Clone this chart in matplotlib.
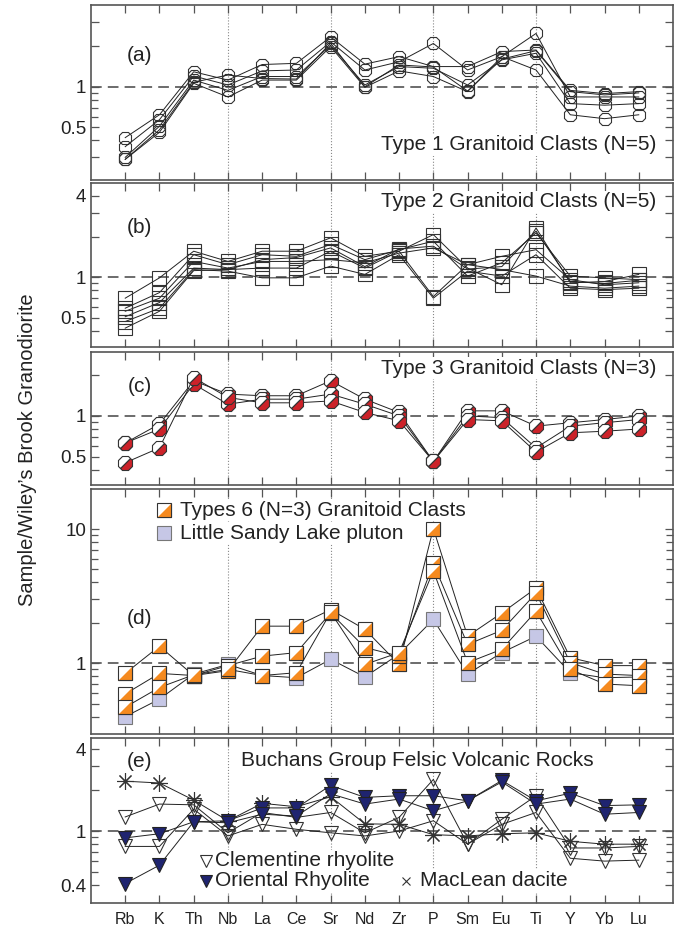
import numpy as np
import matplotlib
matplotlib.use("Agg")
import matplotlib.pyplot as plt
from matplotlib.markers import MarkerStyle
from matplotlib.transforms import Affine2D
from matplotlib.ticker import NullFormatter

plt.rcParams['font.family'] = ['Liberation Sans', 'DejaVu Sans']

elements = ["Rb", "K", "Th", "Nb", "La", "Ce", "Sr", "Nd", "Zr", "P", "Sm", "Eu", "Ti", "Y", "Yb", "Lu"]

# (a) Type 1 granitoid clasts
type1 = [
    [0.42, 0.62, 1.29, 1.12, 1.46, 1.49, 2.34, 1.47, 1.67, 1.41, 1.41, 1.82, 1.87, 0.94, 0.89, 0.92],
    [0.36, 0.57, 1.20, 1.03, 1.31, 1.33, 2.15, 1.33, 1.53, 2.09, 1.33, 1.67, 2.48, 0.84, 0.84, 0.84],
    [0.30, 0.51, 1.12, 0.94, 1.19, 1.19, 2.03, 1.03, 1.41, 1.37, 1.03, 1.58, 1.77, 0.75, 0.73, 0.75],
    [0.29, 0.46, 1.06, 0.84, 1.12, 1.12, 1.98, 0.99, 1.31, 1.19, 0.92, 1.67, 1.33, 0.62, 0.58, 0.62],
    [0.29, 0.48, 1.08, 1.22, 1.15, 1.14, 2.10, 1.00, 1.45, 1.40, 0.93, 1.60, 1.85, 0.92, 0.87, 0.90],
]

# (b) Type 2 granitoid clasts
type2 = [
    [0.70, 0.99, 1.56, 1.31, 1.56, 1.56, 1.96, 1.43, 1.56, 2.07, 1.17, 0.88, 2.32, 0.91, 0.93, 1.05],
    [0.59, 0.77, 1.47, 1.24, 1.47, 1.43, 1.75, 1.35, 1.60, 1.85, 1.02, 1.28, 2.13, 1.02, 0.99, 0.96],
    [0.56, 0.70, 1.31, 1.17, 1.31, 1.31, 1.35, 1.28, 1.51, 1.65, 1.24, 1.43, 1.60, 0.96, 0.88, 0.91],
    [0.51, 0.65, 1.17, 1.14, 1.17, 1.17, 1.56, 1.17, 1.56, 0.72, 1.24, 1.14, 1.02, 0.86, 0.83, 0.86],
    [0.47, 0.59, 1.14, 1.11, 0.99, 0.99, 1.21, 1.05, 1.47, 0.70, 1.11, 1.02, 1.47, 0.83, 0.81, 0.83],
    [0.42, 0.56, 1.12, 1.14, 1.35, 1.40, 1.65, 1.20, 1.62, 1.70, 1.15, 1.20, 2.20, 0.93, 0.90, 0.95],
]

# (c) Type 3 granitoid clasts
type3 = [
    [0.63, 0.87, 1.82, 1.45, 1.41, 1.41, 1.82, 1.33, 1.06, 0.46, 1.09, 1.09, 0.84, 0.89, 0.94, 1.00],
    [0.63, 0.80, 1.72, 1.22, 1.33, 1.33, 1.45, 1.22, 1.00, 0.46, 1.00, 0.97, 0.58, 0.84, 0.89, 0.94],
    [0.45, 0.58, 1.92, 1.37, 1.25, 1.25, 1.29, 1.06, 0.92, 0.46, 0.94, 0.92, 0.54, 0.75, 0.77, 0.80],
]

# (d) Type 6 granitoid clasts and Little Sandy Lake pluton
type6 = [
    [0.84, 1.34, 0.81, 0.88, 1.89, 1.89, 2.51, 1.79, 0.98, 10.1, 1.59, 2.37, 3.63, 1.10, 0.96, 0.96],
    [0.59, 0.84, 0.81, 0.96, 1.13, 1.20, 2.37, 1.31, 1.13, 5.56, 1.38, 1.76, 3.33, 1.01, 0.83, 0.81],
    [0.47, 0.66, 0.82, 0.90, 0.81, 0.85, 2.40, 0.98, 1.20, 4.88, 1.01, 1.27, 2.44, 0.90, 0.70, 0.68],
]
sandy_lake = [0.40, 0.54, 0.83, 0.98, 0.81, 0.78, 1.07, 0.79, 1.17, 2.12, 0.83, 1.20, 1.59, 0.85, 0.78, 0.79]

# (e) Buchans Group felsic volcanic rocks
clementine = [
    [1.27, 1.58, 1.56, 0.97, 1.37, 1.26, 1.37, 0.97, 1.26, 2.40, 0.80, 1.22, 1.82, 0.75, 0.75, 0.77],
    [0.77, 0.77, 1.45, 0.92, 1.12, 1.03, 0.97, 0.92, 1.00, 1.19, 0.80, 1.12, 1.37, 0.63, 0.60, 0.61],
]
oriental = [
    [0.89, 0.955, 1.17, 1.19, 1.48, 1.48, 2.17, 1.77, 1.82, 1.82, 1.67, 2.36, 1.67, 1.90, 1.54, 1.56],
    [0.41, 0.56, 1.17, 1.15, 1.33, 1.29, 1.88, 1.58, 1.72, 1.41, 1.67, 2.30, 1.58, 1.72, 1.33, 1.37],
]
maclean = [2.33, 2.26, 1.69, 1.19, 1.60, 1.51, 1.79, 1.13, 1.12, 0.94, 0.92, 0.955, 0.97, 0.84, 0.80, 0.80]

x = np.arange(len(elements))
minor_low = [0.6, 0.7, 0.8, 0.9]

red = '#cc2229'
orange = '#f58a1f'
lavender = '#c6c7e6'
navy = '#1f2470'
edge = '#333333'

fig = plt.figure(figsize=(6.82, 9.35), dpi=100)


def make_axes(rect, ylim, major, labels, minor):
    ax = fig.add_axes(rect)
    ax.set_yscale('log')
    ax.set_xlim(-1, 16)
    ax.set_ylim(*ylim)
    ax.set_yticks(major)
    ax.set_yticklabels(labels)
    ax.set_yticks(minor, minor=True)
    ax.yaxis.set_minor_formatter(NullFormatter())
    ax.set_xticks(x)
    ax.set_xticklabels([])
    ax.tick_params(which='both', direction='in', top=True, right=True,
                   color='#555555', width=0.9, labelsize=13.5, labelcolor='#222222')
    ax.tick_params(which='major', length=6)
    ax.tick_params(which='minor', length=5)
    for s in ax.spines.values():
        s.set_color('#555555')
        s.set_linewidth(1.2)
    ax.axhline(1, color='#444444', lw=1.1, dashes=(7, 4), zorder=1)
    for el in ["Nb", "Sr", "P", "Ti"]:
        ax.axvline(elements.index(el), color='#888888', lw=0.8, ls=':', zorder=0.5)
    return ax


def note(ax, xf, yf, s, **kw):
    ax.text(xf, yf, s, transform=ax.transAxes, fontsize=15, color='#222222', va='center',
            bbox=dict(facecolor='white', edgecolor='none', pad=1), zorder=2, **kw)


# panel (a)
ax_a = make_axes([0.1334, 0.8075, 0.8534, 0.1872], (0.204, 4.03),
                 [0.3, 0.4, 0.5, 1, 2, 3], ['', '', '0.5', '1', '', ''], minor_low)
for s in type1:
    ax_a.plot(x, s, color='#222222', lw=0.7, marker='8', ms=9.5, mfc='none', mec=edge, mew=0.8, zorder=3)
note(ax_a, 0.084, 0.71, '(a)', ha='center')
note(ax_a, 0.972, 0.2, 'Type 1 Granitoid Clasts (N=5)', ha='right')

# panel (b)
ax_b = make_axes([0.1334, 0.6292, 0.8534, 0.1748], (0.306, 4.97),
                 [0.4, 0.5, 1, 2, 3, 4], ['', '0.5', '1', '', '', '4'], minor_low)
for s in type2:
    ax_b.plot(x, s, color='#222222', lw=0.7, marker='s', ms=10.5, mfc='none', mec=edge, mew=0.8, zorder=3)
note(ax_b, 0.084, 0.73, '(b)', ha='center')
note(ax_b, 0.972, 0.887, 'Type 2 Granitoid Clasts (N=5)', ha='right')

# panel (c)
half_oct = MarkerStyle('8', fillstyle='right', transform=Affine2D().rotate_deg(-45))
ax_c = make_axes([0.1334, 0.4813, 0.8534, 0.1426], (0.308, 2.99),
                 [0.4, 0.5, 1, 2], ['', '0.5', '1', ''], minor_low)
for s in type3:
    ax_c.plot(x, s, color='#222222', lw=0.7, marker=half_oct, ms=11, mfc=red,
              mfcalt='white', mec=edge, mew=0.8, zorder=3)
note(ax_c, 0.084, 0.737, '(c)', ha='center')
note(ax_c, 0.972, 0.875, 'Type 3 Granitoid Clasts (N=3)', ha='right')

# panel (d)
tri = [(-1, -1), (1, -1), (1, 1)]
ax_d = make_axes([0.1334, 0.2150, 0.8534, 0.2620], (0.297, 19.9),
                 [0.4, 0.5, 1, 2, 3, 10], ['', '', '1', '', '', '10'],
                 [0.6, 0.7, 0.8, 0.9, 4, 5, 6, 7, 8, 9])
ax_d.plot(x, sandy_lake, color='#222222', lw=0.7, marker='s', ms=10.5, mfc=lavender, mec='#777777',
          mew=0.8, zorder=3)
for s in type6:
    ax_d.plot(x, s, color='#222222', lw=0.7, marker='s', ms=10.5, mfc='white', mec=edge, mew=0.8, zorder=3)
    ax_d.plot(x, s, ls='none', marker=tri, ms=10.5, mfc=orange, mec=edge, mew=0.8, zorder=3)
note(ax_d, 0.084, 0.472, '(d)', ha='center')
ax_d.plot([0.126], [0.914], transform=ax_d.transAxes, marker='s', ms=10.5, mfc='white', mec=edge,
          mew=0.8, zorder=4)
ax_d.plot([0.126], [0.914], transform=ax_d.transAxes, marker=tri, ms=10.5, mfc=orange, mec=edge,
          mew=0.8, zorder=4)
ax_d.plot([0.126], [0.819], transform=ax_d.transAxes, marker='s', ms=10.5, mfc=lavender, mec='#777777',
          mew=0.8, zorder=4)
note(ax_d, 0.153, 0.914, 'Types 6 (N=3) Granitoid Clasts', ha='left')
note(ax_d, 0.153, 0.819, 'Little Sandy Lake pluton', ha='left')

# panel (e)
ax_e = make_axes([0.1334, 0.0345, 0.8534, 0.1758], (0.296, 4.82),
                 [0.4, 1, 2, 3, 4], ['0.4', '1', '', '', '4'], [0.5] + minor_low)
for s in clementine:
    ax_e.plot(x, s, color='#222222', lw=0.7, marker='v', ms=10.5, mfc='none', mec=edge, mew=0.8, zorder=3)
ax_e.plot(x, maclean, color='#222222', lw=0.7, marker=(8, 2, 0), ms=12, mec=edge, mew=0.8, zorder=3)
for s in oriental:
    ax_e.plot(x, s, color='#222222', lw=0.7, marker='v', ms=10.5, mfc=navy, mec='#222222', mew=0.8, zorder=3)
note(ax_e, 0.084, 0.858, '(e)', ha='center')
note(ax_e, 0.56, 0.868, 'Buchans Group Felsic Volcanic Rocks', ha='center')
ax_e.plot([0.198], [0.254], transform=ax_e.transAxes, marker='v', ms=8, mfc='white', mec=edge,
          mew=0.8, zorder=4)
ax_e.plot([0.198], [0.134], transform=ax_e.transAxes, marker='v', ms=8, mfc=navy, mec='#222222',
          mew=0.8, zorder=4)
ax_e.plot([0.542], [0.134], transform=ax_e.transAxes, marker='x', ms=6, mec=edge, mew=0.8, zorder=4)
note(ax_e, 0.213, 0.254, 'Clementine rhyolite', ha='left')
note(ax_e, 0.213, 0.134, 'Oriental Rhyolite', ha='left')
note(ax_e, 0.565, 0.134, 'MacLean dacite', ha='left')
ax_e.set_xticklabels(elements, fontsize=11.5)
ax_e.tick_params(axis='x', pad=7)

fig.text(0.041, 0.519, 'Sample/Wiley\u2019s Brook Granodiorite', rotation=90, ha='center', va='center',
         fontsize=14.5, color='#222222')

fig.savefig('out.png', dpi=100)
